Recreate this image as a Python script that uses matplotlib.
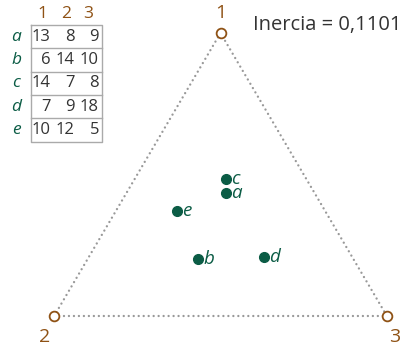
import matplotlib
matplotlib.use("Agg")
import matplotlib.pyplot as plt
import numpy as np

# Data
row_labels = ["a", "b", "c", "d", "e"]
col_labels = ["1", "2", "3"]
counts = [
    [13, 8, 9],
    [6, 14, 10],
    [14, 7, 8],
    [7, 9, 18],
    [10, 12, 5],
]
inertia_text = "Inercia = 0,1101"

BROWN = "#8f5215"
GREEN = "#0b5c45"
GRAY = "#999999"
DARK = "#333333"
FONT = ["Open Sans", "DejaVu Sans"]

W, H = 419, 351
fig = plt.figure(figsize=(W / 100, H / 100), dpi=100)
ax = fig.add_axes([0, 0, 1, 1])
ax.set_xlim(0, W)
ax.set_ylim(H, 0)
ax.axis("off")

# triangle vertices (layout, pixel space)
V = np.array([[220.5, 33.0], [54.3, 315.7], [386.7, 315.7]])

# triangle edges
for i, j in [(0, 1), (1, 2), (2, 0)]:
    ax.plot([V[i, 0], V[j, 0]], [V[i, 1], V[j, 1]], color=GRAY, lw=1.7,
            linestyle=(0, (0.01, 2.1)), dash_capstyle="round", zorder=1)
ax.plot(V[:, 0], V[:, 1], "o", ms=7, mfc="white", mec=BROWN, mew=1.3,
        linestyle="none", zorder=3)

# vertex labels
ax.text(220.7, 13, col_labels[0], ha="center", va="center",
        color=BROWN, fontsize=14, family=FONT)
ax.text(45, 337, col_labels[1], ha="center", va="center",
        color=BROWN, fontsize=14, family=FONT)
ax.text(395, 337, col_labels[2], ha="center", va="center",
        color=BROWN, fontsize=14, family=FONT)

# points via barycentric coordinates
C = np.array(counts, dtype=float)
P = (C / C.sum(axis=1, keepdims=True)) @ V
ax.plot(P[:, 0], P[:, 1], "o", ms=7, color=GREEN, linestyle="none", zorder=4)
for (x, y), lab in zip(P, row_labels):
    ax.text(x + 5, y, lab, ha="left", va="center", color=GREEN,
            fontsize=13.5, style="italic", family=FONT)

# inertia text
ax.text(253, 25, inertia_text, ha="left", va="center", color=DARK,
        fontsize=14.5, family=FONT)

# table
left, right, top = 30.7, 101.7, 25.0
rh = 23.3
col_right = [50.5, 74.5, 99.0]
head_x = [42.7, 66.0, 88.5]
nrow = len(row_labels)
bottom = top + rh * nrow
ax.plot([left, right, right, left, left], [top, top, bottom, bottom, top],
        color="#aaaaaa", lw=1.0)
for k in range(1, nrow):
    ax.plot([left, right], [top + rh * k] * 2, color="#aaaaaa", lw=1.0)
for j, cl in enumerate(col_labels):
    ax.text(head_x[j], 14, cl, ha="center", va="center",
            color=BROWN, fontsize=12.5, family=FONT)
for i, rl in enumerate(row_labels):
    yc = top + rh * (i + 0.5)
    ax.text(16, yc, rl, ha="center", va="center", color=GREEN,
            fontsize=12.5, style="italic", family=FONT)
    for j in range(3):
        ax.text(col_right[j], yc, str(counts[i][j]), ha="right", va="center",
                color=DARK, fontsize=12, family=FONT)

fig.savefig("out.png", dpi=100)
